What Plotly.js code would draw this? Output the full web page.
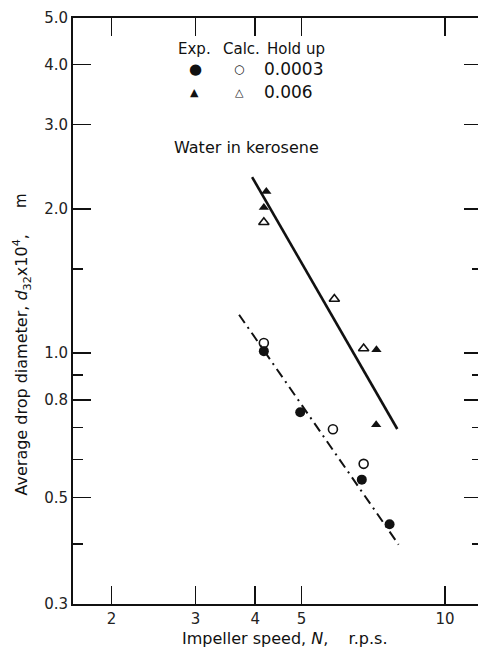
<!DOCTYPE html>
<html>
<head>
<meta charset="utf-8">
<script src="https://cdn.plot.ly/plotly-3.0.1.min.js"></script>
<style>
html,body{margin:0;padding:0;overflow:hidden;background:#fff;}
#chart{width:482px;height:647px;}
</style>
</head>
<body>
<div id="chart"></div>
<script>
// Impeller speed N (r.p.s.) and drop diameter d32 x 10^4 (m)
const N_exp_0003 = [4.17, 4.97, 6.69, 7.65];
const d_exp_0003 = [1.01, 0.753, 0.545, 0.44];
const N_calc_0003 = [4.17, 5.82, 6.75];
const d_calc_0003 = [1.05, 0.694, 0.588];
const N_exp_006 = [4.22, 4.17, 7.18, 7.17];
const d_exp_006 = [2.175, 2.014, 1.017, 0.709];
const N_calc_006 = [4.17, 5.86, 6.75];
const d_calc_006 = [1.875, 1.297, 1.023];
const N_fit_006 = [3.94, 7.94];
const d_fit_006 = [2.33, 0.695];
const N_fit_0003 = [3.70, 7.99];
const d_fit_0003 = [1.203, 0.399];

const xTickVals = [2, 3, 4, 5, 10];
const xTickText = ['2', '3', '4', '5', '10'];
const yTickVals = [0.3, 0.5, 0.8, 1, 2, 3, 4, 5];
const yTickText = ['0.3', '0.5', '0.8', '1.0', '2.0', '3.0', '4.0', '5.0'];
const yMinorVals = [0.4, 0.6, 0.7, 0.9, 1.5];

const F = 'DejaVu Sans, sans-serif';
const INK = '#111';

const traces = [
  {x: N_fit_006, y: d_fit_006, mode: 'lines', line: {color: INK, width: 2.6}},
  {x: N_fit_0003, y: d_fit_0003, mode: 'lines', line: {color: INK, width: 2, dash: '10px,5px,2px,5px'}},
  {x: N_calc_0003, y: d_calc_0003, mode: 'markers', marker: {symbol: 'circle-open', size: 9, color: INK, line: {width: 1.6, color: INK}}},
  {x: N_calc_006, y: d_calc_006, mode: 'markers', marker: {symbol: 'triangle-up-open', size: 9, color: INK, line: {width: 1.6, color: INK}}},
  {x: N_exp_0003, y: d_exp_0003, mode: 'markers', marker: {symbol: 'circle', size: 10, color: INK}},
  {x: N_exp_006, y: d_exp_006, mode: 'markers', marker: {symbol: 'triangle-up', size: 9, color: INK}}
];

// paper coordinate helpers for annotation placement (plot area 73..482 x 18..604 px)
const px = v => (v - 73) / 409;
const py = v => (604 - v) / 586;

function ann(text, x, y, size, opts) {
  return Object.assign({text: text, xref: 'paper', yref: 'paper', x: px(x), y: py(y), showarrow: false,
    xanchor: 'center', yanchor: 'middle', font: {family: F, size: size, color: INK}}, opts || {});
}

const annotations = [
  ann('Exp.', 194, 49, 15),
  ann('Calc.', 241, 49, 15),
  ann('Hold up', 265, 49, 15, {xanchor: 'left'}),
  ann('\u25CF', 195, 69, 15),
  ann('\u25CB', 239, 69, 12),
  ann('0.0003', 262, 69, 17, {xanchor: 'left'}),
  ann('\u25B2', 194, 92, 11),
  ann('\u25B3', 239, 92, 11),
  ann('0.006', 262, 92, 17, {xanchor: 'left'}),
  ann('Water in kerosene', 172, 147, 16, {xanchor: 'left'}),
  ann('Impeller speed, <i>N</i>,    r.p.s.', 180, 639, 16, {xanchor: 'left'}),
  ann('Average drop diameter, <i>d</i><sub>32</sub>x10<sup>4</sup>,', 22, 498, 16, {textangle: -90, yanchor: 'bottom'}),
  ann('m', 21, 201, 15, {textangle: -90})
];

const layout = {
  width: 482, height: 647,
  margin: {l: 73, r: 0, t: 18, b: 43},
  paper_bgcolor: '#fff', plot_bgcolor: '#fff',
  showlegend: false,
  font: {family: F, size: 15, color: INK},
  xaxis: {
    type: 'log', range: [Math.log10(1.66), Math.log10(11.95)],
    tickmode: 'array', tickvals: xTickVals, ticktext: xTickText,
    ticks: 'inside', ticklen: 18, tickwidth: 1.6, tickcolor: INK,
    showline: true, linewidth: 2, linecolor: INK, mirror: 'ticks',
    showgrid: false, zeroline: false,
    tickfont: {family: F, size: 15, color: '#222'}
  },
  yaxis: {
    type: 'log', range: [Math.log10(0.3), Math.log10(5)],
    tickmode: 'array', tickvals: yTickVals, ticktext: yTickText,
    ticks: 'inside', ticklen: 18, tickwidth: 1.6, tickcolor: INK,
    showline: true, linewidth: 2, linecolor: INK, mirror: 'ticks',
    showgrid: false, zeroline: false,
    tickfont: {family: F, size: 15, color: '#222'},
    minor: {tickmode: 'array', tickvals: yMinorVals, ticks: 'inside', ticklen: 10, tickwidth: 1.6, tickcolor: INK, showgrid: false}
  },
  annotations: annotations
};

Plotly.newPlot('chart', traces, layout, {displayModeBar: false, staticPlot: true});
</script>
</body>
</html>
